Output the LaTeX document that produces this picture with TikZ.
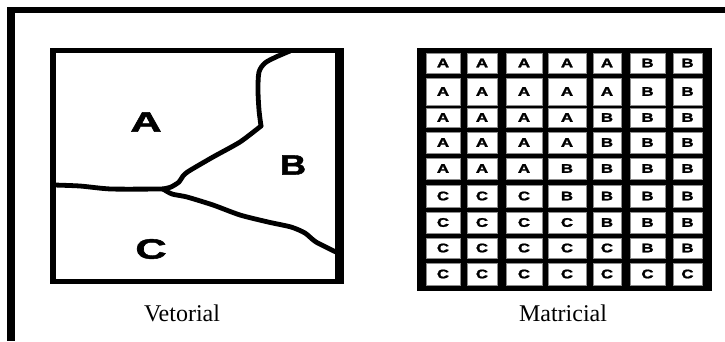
\documentclass[tikz,border=0pt]{standalone}
\usepackage{fontspec}
\setmainfont{Liberation Serif}
\newfontfamily\lettersans[BoldFeatures={FakeBold=1.5}]{Liberation Sans}
\begin{document}
\begin{tikzpicture}[x=1pt,y=-1pt,
  vline/.style={line width=4.8pt,line join=round,line cap=round},
  bigletter/.style={inner sep=0pt,font=\lettersans\bfseries\fontsize{28}{28}\selectfont},
  mletter/.style={inner sep=0pt,font=\lettersans\bfseries\fontsize{12.5}{12.5}\selectfont},
  caption/.style={inner sep=0pt,anchor=base,font=\fontsize{24}{24}\selectfont},
  cellbox/.style={fill=white,draw=black!45,line width=0.5pt}]
\useasboundingbox (0,0) rectangle (725,341);
% outer frame (only left and top edges visible)
\fill[black] (7,7) rectangle (15,341);
\fill[black] (7,7) rectangle (725,13);
% vector box
\fill[black] (50,48) rectangle (56,284);
\fill[black] (50,48) rectangle (344,53);
\fill[black] (335,48) rectangle (344,284);
\fill[black] (50,279) rectangle (344,284);
% region boundaries
\draw[vline] plot[smooth,tension=0.5] coordinates {(290,51) (276,57) (265,63) (259,72) (258,90) (259,110) (261,126)};
\draw[vline] plot[smooth,tension=0.4] coordinates {(261,126) (240,142) (213,157) (189,171) (183,176) (179,182) (171,187) (163,189)};
\draw[vline] plot[smooth,tension=0.4] coordinates {(54,185) (80,186) (111,189) (163,189)};
\draw[vline] plot[smooth,tension=0.4] coordinates {(163,189) (172,194) (187,197) (213,205) (240,215) (268,222) (291,227) (305,233) (316,242) (338,253)};
\node[bigletter] (vA) at (146,122) {\scalebox{1.55}[1]{A}};
\node[bigletter] (vB) at (293,165) {\scalebox{1.3}[1]{B}};
\node[bigletter] (vC) at (151,249) {\scalebox{1.55}[1]{C}};
\node[caption] (capV) at (182,321) {Vetorial};
% raster matrix
\fill[black] (417,48) rectangle (712,291);
\def\colL{{426,467,506,548,593,630,673}}
\def\colR{{460,497,542,586,621,665,702}}
\def\rowT{{53,78,108,132,158,185,212,238,263}}
\def\rowB{{73,105,127,153,179,207,233,258,285}}
\foreach \r/\line in {0/{A,A,A,A,A,B,B},1/{A,A,A,A,A,B,B},2/{A,A,A,A,B,B,B},3/{A,A,A,A,B,B,B},4/{A,A,A,B,B,B,B},5/{C,C,C,B,B,B,B},6/{C,C,C,C,B,B,B},7/{C,C,C,C,C,B,B},8/{C,C,C,C,C,C,C}}{
  \foreach \ch [count=\c from 0] in \line {
    \pgfmathsetmacro\xl{\colL[\c]}
    \pgfmathsetmacro\xr{\colR[\c]}
    \pgfmathsetmacro\yt{\rowT[\r]}
    \pgfmathsetmacro\yb{\rowB[\r]}
    \draw[cellbox] (\xl,\yt) rectangle (\xr,\yb);
    \pgfmathsetmacro\cx{(\xl+\xr)/2}
    \pgfmathsetmacro\cy{(\yt+\yb)/2}
    \node[mletter] (m-\r-\c) at (\cx,\cy) {\scalebox{1.35}[1]{\ch}};
  }
}
\node[caption] (capM) at (563,321) {Matricial};
\end{tikzpicture}
\end{document}
